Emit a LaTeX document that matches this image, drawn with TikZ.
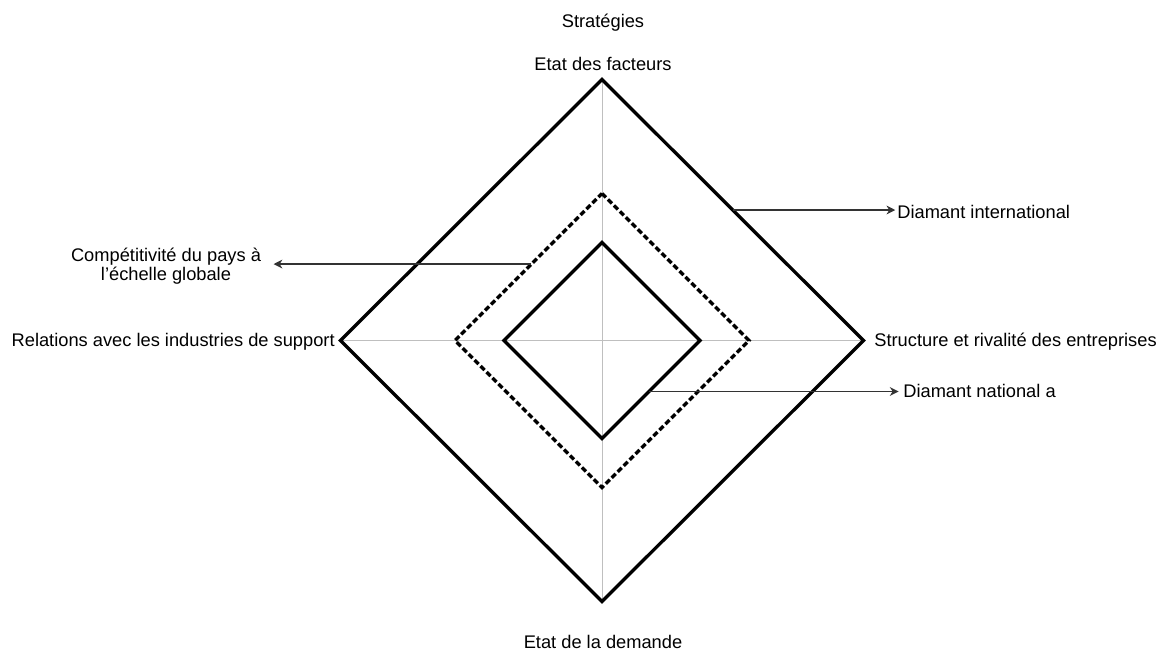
\documentclass[tikz,border=0pt]{standalone}
\usepackage{fontspec}
\setmainfont{Liberation Sans}
\usetikzlibrary{arrows.meta, calc}
\tikzset{>={Stealth[length=5pt,width=5pt,inset=1.6pt]}}

\begin{document}
\begin{tikzpicture}[x=0.02cm, y=-0.02cm, font=\fontsize{10.4}{10.4}\selectfont,
		lbl/.style={inner sep=0pt},
		axe/.style={black!25, line width=0.5pt},
		dia/.style={line width=1.9pt, miter limit=4},
		diadash/.style={dia, dash pattern=on 3.2pt off 1.6pt},
		arr/.style={->, line width=0.7pt, black!80}]
		\useasboundingbox (0,0) rectangle (1162,653);
		\coordinate (T1) at (602,79.5);  \coordinate (R1) at (863.5,340.5);
		\coordinate (B1) at (602,601.5); \coordinate (L1) at (340.5,340.5);
		\coordinate (T2) at (602,193.5); \coordinate (R2) at (749,340.5);
		\coordinate (B2) at (602,487.5); \coordinate (L2) at (455,340.5);
		\coordinate (T3) at (602,242.5); \coordinate (R3) at (700,340.5);
		\coordinate (B3) at (602,438.5); \coordinate (L3) at (504,340.5);
		\draw[axe] (T1) -- (B1); \draw[axe] (L1) -- (R1);
		\draw[dia] (T1) -- (R1) -- (B1) -- (L1) -- cycle;
		\draw[diadash] (T2) -- (R2) -- (B2) -- (L2) -- cycle;
		\draw[dia] (T3) -- (R3) -- (B3) -- (L3) -- cycle;
		\coordinate (ai) at ($(T1)!.5!(R1)$);
		\coordinate (an) at ($(R3)!.52!(B3)$);
		\coordinate (ac) at ($(L2)!.52!(T2)$);
		\node[lbl, anchor=base] (strat) at (603,27) {Stratégies};
		\node[lbl, anchor=base] (fact) at (603,70) {Etat des facteurs};
		\node[lbl, anchor=base] (dem) at (603,648) {Etat de la demande};
		\node[lbl, anchor=base east] (rel) at (335,346) {Relations avec les industries de support};
		\node[lbl, anchor=base west] (struc) at (874,346) {Structure et rivalité des entreprises};
		\node[lbl, anchor=base west] (dint) at (897,218) {Diamant international};
		\node[lbl, anchor=base west] (dnat) at (903,397) {Diamant national a};
		\node[lbl, align=center, anchor=base] (comp) at (166,280) {Compétitivité du pays à\\l’échelle globale};
		\draw[arr, shorten >=1pt] (ai) -- (ai -| dint.west);
		\draw[arr, shorten >=2.5pt] (an) -- (an -| dnat.west);
		\draw[arr, shorten >=7pt] (ac) -- (ac -| comp.east);
\end{tikzpicture}
\end{document}
